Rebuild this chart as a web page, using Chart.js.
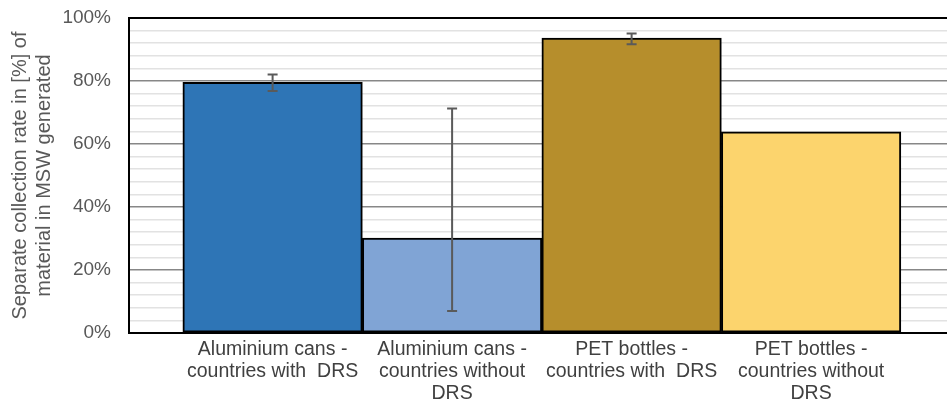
<!DOCTYPE html>
<html>
<head>
<meta charset="utf-8">
<script src="https://cdn.jsdelivr.net/npm/chart.js@4/dist/chart.umd.min.js"></script>
<style>
  html, body { margin: 0; padding: 0; background: #ffffff; overflow: hidden; }
  #wrap { width: 947px; height: 403px; }
</style>
</head>
<body>
<div id="wrap"><canvas id="c" width="947" height="403"></canvas></div>
<script>
// Categories (multi-line axis labels)
const categories = [
  ['Aluminium cans -', 'countries with  DRS'],
  ['Aluminium cans -', 'countries without', 'DRS'],
  ['PET bottles -', 'countries with  DRS'],
  ['PET bottles -', 'countries without', 'DRS']
];
// Separate collection rate, % of material in MSW generated
const rates = [79.6, 30.1, 93.6, 63.9];
// Error bar extents above / below the bar value (percentage points)
const errUpper = [2.5, 41.2, 1.5, 0];
const errLower = [2.8, 23.1, 1.9, 0];
const barColors = ['#2E75B6', '#80A4D5', '#B68E2C', '#FCD46D'];
const yTitle = ['Separate collection rate in [%] of', 'material in MSW generated'];

const FONT = '"Liberation Sans", Arial, sans-serif';

// Error bars drawn from the y scale
const errorBars = {
  id: 'errorBars',
  afterDatasetsDraw(chart) {
    const ctx = chart.ctx;
    const xs = chart.scales.x, ys = chart.scales.y;
    ctx.save();
    ctx.strokeStyle = '#5a5a5a';
    ctx.lineWidth = 2;
    rates.forEach((v, i) => {
      if (!errUpper[i] && !errLower[i]) return;
      const x = xs.getPixelForValue(i);
      const yTop = ys.getPixelForValue(v + errUpper[i]);
      const yBot = ys.getPixelForValue(v - errLower[i]);
      ctx.beginPath();
      ctx.moveTo(x, yTop); ctx.lineTo(x, yBot);
      ctx.moveTo(x - 5, yTop); ctx.lineTo(x + 5, yTop);
      ctx.moveTo(x - 5, yBot); ctx.lineTo(x + 5, yBot);
      ctx.stroke();
    });
    ctx.restore();
  }
};

// Black frame round the plot area
const plotFrame = {
  id: 'plotFrame',
  afterDatasetsDraw(chart) {
    const {left, top, right, bottom} = chart.chartArea;
    const ctx = chart.ctx;
    ctx.save();
    ctx.strokeStyle = '#000000';
    ctx.lineWidth = 2;
    ctx.strokeRect(left, top, right - left + 4, bottom - top);
    ctx.restore();
  }
};

new Chart(document.getElementById('c'), {
  type: 'bar',
  data: {
    datasets: [{
      data: rates.map((v, i) => ({x: i, y: v})),
      backgroundColor: barColors,
      borderColor: '#000000',
      borderWidth: 2,
      borderSkipped: false,
      barPercentage: 1,
      categoryPercentage: 1
    }]
  },
  options: {
    responsive: false,
    animation: false,
    devicePixelRatio: 1,
    layout: { padding: { left: 0, right: 0, top: 18, bottom: 0 } },
    plugins: { legend: { display: false }, tooltip: { enabled: false } },
    scales: {
      x: {
        type: 'linear',
        offset: false,
        min: -0.8,
        max: 3.757,
        afterFit(scale) { scale.height = 70; scale.paddingLeft = 0; scale.paddingRight = 0; },
        grid: { display: false, drawTicks: false },
        border: { display: false },
        afterBuildTicks(scale) {
          scale.ticks = categories.map((c, i) => ({ value: i }));
        },
        ticks: {
          autoSkip: false,
          maxRotation: 0,
          padding: 6,
          color: '#404040',
          font: { family: FONT, size: 19.5, lineHeight: 1.13 },
          callback: (v) => categories[v]
        }
      },
      y: {
        min: 0,
        max: 100,
        afterFit(scale) { scale.width = 129; scale.paddingTop = 0; scale.paddingBottom = 0; },
        grid: {
          drawTicks: false,
          color: (c) => (c.tick && c.tick.value % 20 === 0) ? '#878787' : '#e2e2e2',
          lineWidth: 1.5
        },
        border: { display: false },
        ticks: {
          stepSize: 4,
          autoSkip: false,
          padding: 18,
          color: '#595959',
          font: { family: FONT, size: 19 },
          callback: (v) => (v % 20 === 0) ? v + '%' : ''
        },
        title: {
          display: true,
          text: yTitle,
          color: '#595959',
          font: { family: FONT, size: 20, lineHeight: 1.18 },
          padding: { top: 9, bottom: 0 }
        }
      }
    }
  },
  plugins: [errorBars, plotFrame]
});
</script>
</body>
</html>
